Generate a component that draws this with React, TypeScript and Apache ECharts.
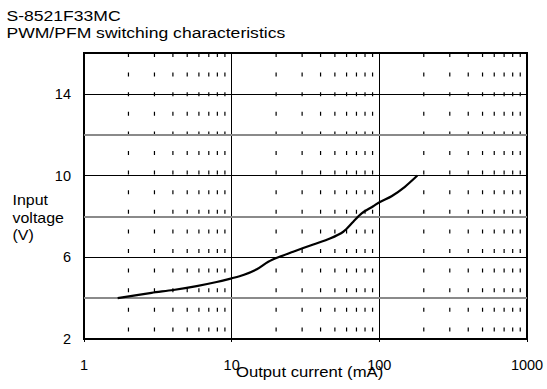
import React, { useEffect, useRef } from "react";
import * as echarts from "echarts";

const titleLines = ["S-8521F33MC", "PWM/PFM switching characteristics"];
const xAxisName = "Output current (mA)";
const yAxisName = "Input\nvoltage\n(V)";

const currents = [1.69, 2.87, 4.02, 5.79, 7.91, 10, 12, 14.8, 17.7, 20.7, 26.1, 35.7, 46.3, 57, 66.6, 75.9, 90.9, 101, 121, 149, 181];
const voltages = [4.0, 4.26, 4.4, 4.59, 4.79, 4.97, 5.13, 5.41, 5.78, 6.0, 6.27, 6.63, 6.92, 7.25, 7.74, 8.15, 8.5, 8.71, 8.99, 9.45, 10.0];

const minorXs = [2, 3, 4, 5, 6, 7, 8, 9, 20, 30, 40, 50, 60, 70, 80, 90, 200, 300, 400, 500, 600, 700, 800, 900];
const yTickLabels = [2, 6, 10, 14];
const grayLines = [4, 8, 12];
const blackLines = [6, 10, 14];

const FONT = "'Liberation Sans', Arial, sans-serif";

export default function App() {
  const ref = useRef<HTMLDivElement>(null);
  useEffect(() => {
    if (!ref.current) return;
    const chart = echarts.init(ref.current, undefined, { renderer: "svg" });
    const option: any = {
      animation: false,
      backgroundColor: "#fff",
      textStyle: { fontFamily: FONT },
      grid: {
        left: 84,
        right: 20,
        top: 53,
        bottom: 50,
        show: true,
        borderColor: "#000",
        borderWidth: 2,
        backgroundColor: "transparent",
      },
      xAxis: {
        type: "log",
        logBase: 10,
        min: 1,
        max: 1000,
        axisLine: { show: true, lineStyle: { color: "#000", width: 2 } },
        axisTick: { show: true, length: 3, inside: false, lineStyle: { color: "#000", width: 1 } },
        axisLabel: {
          color: "#000",
          fontSize: 14.5,
          margin: 18,
          fontFamily: FONT,
          formatter: (v: number) => String(Math.round(v)),
        },
        splitLine: { show: true, lineStyle: { color: "#000", width: 1 } },
        minorTick: { show: false },
      },
      yAxis: {
        type: "value",
        min: 2,
        max: 16,
        interval: 2,
        axisLine: { show: true, lineStyle: { color: "#000", width: 2 } },
        axisTick: { show: false },
        axisLabel: {
          color: "#000",
          fontSize: 14.5,
          margin: 13,
          fontFamily: FONT,
          formatter: (v: number) => (yTickLabels.indexOf(Math.round(v)) >= 0 ? String(Math.round(v)) : ""),
        },
        splitLine: { show: false },
      },
      graphic: [
        {
          type: "text",
          left: 6.5,
          top: 6.5,
          scaleX: 1.17,
          style: {
            text: titleLines.join("\n"),
            fill: "#000",
            font: `15px ${FONT}`,
            lineHeight: 17.5,
          },
        },
        {
          type: "text",
          x: 12.5,
          y: 191.3,
          scaleX: 1.14,
          style: {
            text: yAxisName,
            fill: "#000",
            font: `14px ${FONT}`,
            lineHeight: 17.5,
            verticalAlign: "top",
          },
        },
        {
          type: "text",
          x: 236,
          y: 364.5,
          scaleX: 1.15,
          style: {
            text: xAxisName,
            fill: "#000",
            font: `14.5px ${FONT}`,
            verticalAlign: "top",
          },
        },
      ],
      series: [
        {
          type: "custom",
          silent: true,
          z: 1,
          data: minorXs.map((x) => [x, 16]),
          encode: { x: 0, y: 1 },
          renderItem: (params: any, api: any) => {
            const x = api.value(0);
            const top = api.coord([x, 16]);
            const bot = api.coord([x, 2]);
            return {
              type: "line",
              shape: { x1: top[0], y1: top[1], x2: bot[0], y2: bot[1] },
              style: { stroke: "#000", lineWidth: 1.2, lineDash: [4, 15.6] },
            };
          },
        },
        {
          type: "line",
          z: 5,
          data: currents.map((c, i) => [c, voltages[i]]),
          smooth: 0.3,
          showSymbol: false,
          symbol: "none",
          lineStyle: { color: "#000", width: 2.2 },
          markLine: {
            silent: true,
            symbol: "none",
            label: { show: false },
            z: 2,
            data: [
              ...grayLines.map((v) => ({ yAxis: v, lineStyle: { color: "#8a8a8a", width: 2, type: "solid" } })),
              ...blackLines.map((v) => ({ yAxis: v, lineStyle: { color: "#000", width: 1, type: "solid" } })),
            ],
          },
        },
      ],
    };
    chart.setOption(option);
    return () => chart.dispose();
  }, []);
  return (
    <div
      ref={ref}
      style={{ position: "fixed", left: 0, top: 0, width: 547, height: 389 }}
    />
  );
}
